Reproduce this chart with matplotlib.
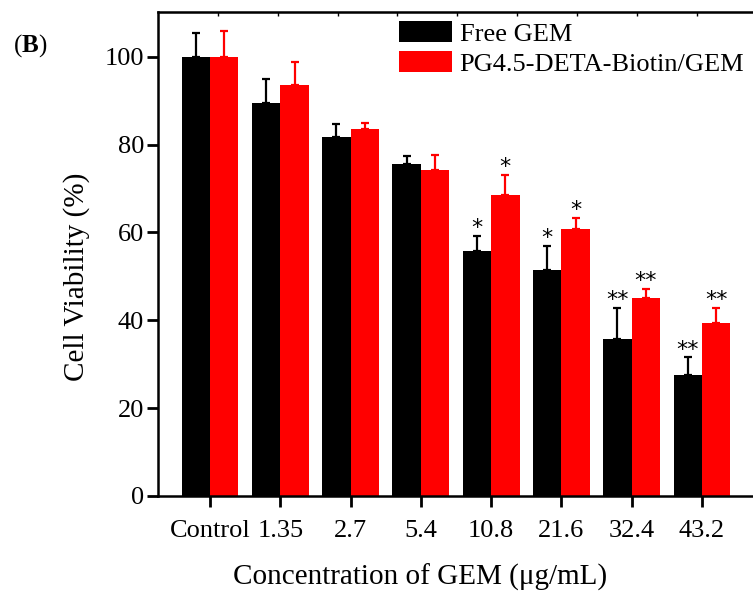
import numpy as np
import matplotlib
matplotlib.use('Agg')
import matplotlib.pyplot as plt

plt.rcParams['font.family'] = ['Liberation Serif', 'DejaVu Serif']
plt.rcParams['mathtext.fontset'] = 'custom'
plt.rcParams['mathtext.rm'] = 'Liberation Serif'
plt.rcParams['mathtext.bf'] = 'Liberation Serif:bold'

# Данные
categories = ['Control', '1.35', '2.7', '5.4', '10.8', '21.6', '32.4', '43.2']
free_gem = [100, 89.5, 81.8, 75.6, 55.8, 51.4, 35.8, 27.6]
free_err = [5.4, 5.5, 3.0, 1.8, 3.5, 5.5, 7.0, 4.0]
pg_gem = [100, 93.5, 83.5, 74.3, 68.6, 60.8, 45.0, 39.3]
pg_err = [5.8, 5.3, 1.4, 3.4, 4.5, 2.5, 2.1, 3.5]
free_sig = ['', '', '', '', '*', '*', '**', '**']
pg_sig = ['', '', '', '', '*', '*', '**', '**']

x = np.arange(len(categories))
w = 0.405

fig = plt.figure(figsize=(7.53, 6.02), dpi=100)
ax = fig.add_axes([158 / 753, 1 - 496 / 602, 596 / 753, 484 / 602])

ekw = dict(lw=1.6, capsize=2.9, capthick=1.6)
ax.bar(x - w / 2, free_gem, w, color='black', label='Free GEM',
       yerr=[np.zeros(len(x)), free_err], error_kw=dict(ecolor='black', **ekw))
ax.bar(x + w / 2, pg_gem, w, color='#ff0000', label='PG4.5-DETA-Biotin/GEM',
       yerr=[np.zeros(len(x)), pg_err], error_kw=dict(ecolor='#ff0000', **ekw))

# Звёздочки значимости
for i in range(len(x)):
    if free_sig[i]:
        ax.annotate(free_sig[i], (x[i] - w / 2, free_gem[i] + free_err[i]),
                    xytext=(0, 5.5), textcoords='offset points', ha='center',
                    va='center', fontsize=16, family='DejaVu Sans')
    if pg_sig[i]:
        ax.annotate(pg_sig[i], (x[i] + w / 2, pg_gem[i] + pg_err[i]),
                    xytext=(0, 5.5), textcoords='offset points', ha='center',
                    va='center', fontsize=16, family='DejaVu Sans')

ax.set_xlim(-0.74, 7.74)
ax.set_ylim(0, 110.2)
ax.set_yticks([0, 20, 40, 60, 80, 100])
ax.set_xticks(x)
ax.set_xticklabels(categories)
ax.tick_params(axis='both', labelsize=19, width=2, length=8, direction='out')
ax.tick_params(axis='x', pad=9)
ax.tick_params(axis='y', pad=2)
for s in ax.spines.values():
    s.set_linewidth(1.8)

top = ax.secondary_xaxis('top')
top.set_xticks(np.arange(0.11, 7.7, 0.852))
top.set_xticklabels([])
top.tick_params(direction='in', length=3, width=1)

fig.text(77 / 753, 1 - 277 / 602, 'Cell Viability (%)', rotation=90,
         ha='center', va='center', fontsize=21)
fig.text(420 / 753, 1 - 577 / 602, 'Concentration of GEM (μg/mL)',
         ha='center', va='center', fontsize=21)
fig.text(13 / 753, 1 - 46 / 602, r'($\mathbf{B}$)', ha='left', va='center',
         fontsize=18)

ax.legend(loc='upper left', bbox_to_anchor=(399 / 753, 1 - 21 / 602),
          bbox_transform=fig.transFigure, frameon=False, fontsize=19,
          borderpad=0, borderaxespad=0, handlelength=2.0, handleheight=0.83,
          handletextpad=0.3, labelspacing=0.22)

fig.savefig('out.png', dpi=100)
